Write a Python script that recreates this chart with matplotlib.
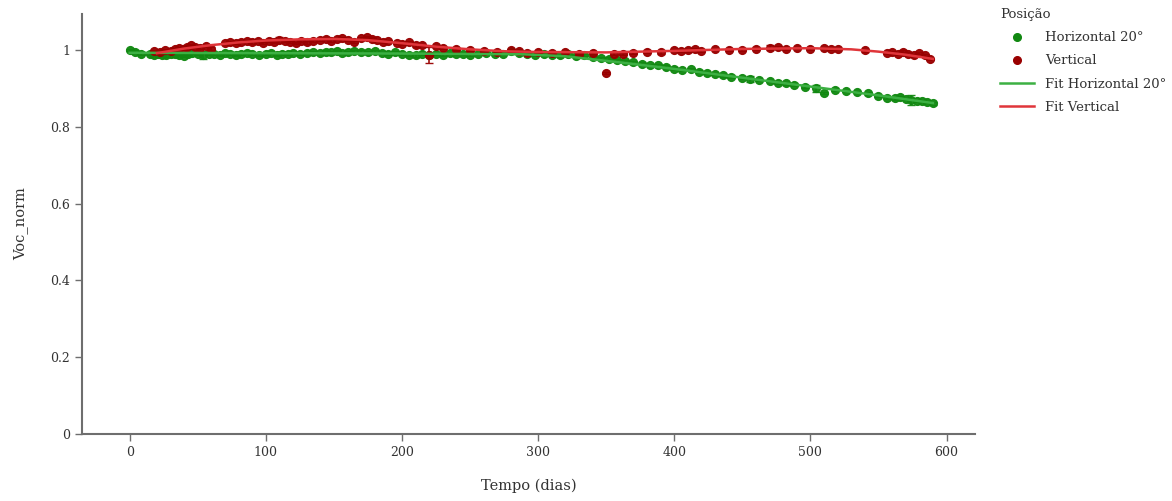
import matplotlib
matplotlib.use("Agg")
import matplotlib.pyplot as plt
from matplotlib.lines import Line2D

plt.rcParams['font.family'] = ['DejaVu Serif']

# Horizontal 20° measurements
h_days = [0, 4, 8, 15, 18, 21, 24, 27, 30, 33, 36, 40, 43, 46, 50, 54, 58, 62, 66, 70,
          74, 78, 82, 86, 90, 95, 100, 104, 108, 112, 116, 120, 125, 130, 135, 140, 144,
          148, 152, 156, 160, 165, 170, 175, 180, 185, 190, 195, 200, 205, 210, 215, 220,
          225, 230, 235, 240, 245, 250, 256, 262, 268, 274, 280, 286, 292, 298, 304, 310,
          316, 322, 328, 334, 340, 346, 352, 358, 364, 370, 376, 382, 388, 394, 400, 406,
          412, 418, 424, 430, 436, 442, 450, 456, 462, 470, 476, 482, 488, 496, 504, 510,
          518, 526, 534, 542, 550, 556, 562, 566, 570, 574, 578, 582, 586, 590]
h_voc = [1.000, 0.996, 0.991, 0.989, 0.987, 0.990, 0.988, 0.986, 0.989, 0.991, 0.987, 0.985,
         0.989, 0.992, 0.990, 0.988, 0.991, 0.989, 0.987, 0.992, 0.990, 0.988, 0.991, 0.993,
         0.989, 0.987, 0.990, 0.992, 0.988, 0.991, 0.989, 0.993, 0.990, 0.992, 0.995, 0.993,
         0.996, 0.994, 0.997, 0.993, 0.995, 0.998, 0.996, 0.994, 0.997, 0.993, 0.991, 0.994,
         0.990, 0.988, 0.986, 0.989, 0.987, 0.990, 0.988, 0.992, 0.989, 0.991, 0.988, 0.990,
         0.992, 0.989, 0.991, 0.997, 0.993, 0.989, 0.987, 0.990, 0.988, 0.986, 0.991, 0.984,
         0.987, 0.983, 0.980, 0.978, 0.975, 0.972, 0.968, 0.965, 0.962, 0.960, 0.957, 0.952,
         0.948, 0.950, 0.944, 0.941, 0.938, 0.934, 0.931, 0.928, 0.925, 0.922, 0.920, 0.915,
         0.913, 0.910, 0.905, 0.900, 0.888, 0.897, 0.893, 0.890, 0.887, 0.880, 0.876, 0.874,
         0.877, 0.872, 0.870, 0.868, 0.867, 0.864, 0.861]
h_err = [0.003] * len(h_voc)
h_err[h_days.index(54)] = 0.010
h_err[h_days.index(456)] = 0.008
h_err[h_days.index(504)] = 0.008
h_err[h_days.index(574)] = 0.014

# Vertical measurements
v_days = [18, 22, 26, 30, 33, 36, 39, 42, 45, 48, 52, 56, 60, 70, 74, 78, 82, 86, 90, 94,
          98, 102, 106, 110, 114, 118, 122, 126, 130, 135, 140, 144, 148, 152, 156, 160,
          165, 170, 174, 178, 182, 186, 190, 196, 200, 205, 210, 215, 220, 225, 230, 240,
          250, 260, 270, 280, 286, 292, 300, 310, 320, 330, 340, 350, 356, 362, 370, 380,
          390, 400, 405, 410, 415, 420, 430, 440, 450, 460, 470, 476, 482, 490, 500, 510,
          515, 520, 540, 556, 560, 564, 568, 572, 576, 580, 584, 588]
v_voc = [0.998, 0.996, 1.000, 0.997, 1.003, 1.006, 1.002, 1.009, 1.012, 1.008, 1.005, 1.010,
         1.004, 1.018, 1.022, 1.019, 1.021, 1.024, 1.020, 1.023, 1.018, 1.025, 1.022, 1.027,
         1.024, 1.021, 1.019, 1.023, 1.020, 1.024, 1.027, 1.030, 1.025, 1.029, 1.032, 1.026,
         1.022, 1.031, 1.035, 1.030, 1.027, 1.022, 1.024, 1.018, 1.016, 1.020, 1.012, 1.014,
         0.987, 1.010, 1.006, 1.003, 1.000, 0.998, 0.995, 1.001, 0.998, 0.993, 0.995, 0.992,
         0.994, 0.990, 0.993, 0.940, 0.991, 0.989, 0.992, 0.996, 0.994, 1.000, 0.997, 0.999,
         1.002, 0.998, 1.003, 1.001, 1.000, 1.004, 1.006, 1.008, 1.003, 1.005, 1.002, 1.006,
         1.004, 1.003, 0.999, 0.992, 0.994, 0.989, 0.996, 0.991, 0.987, 0.993, 0.988, 0.977]
v_err = [0.003] * len(v_voc)
v_err[v_days.index(220)] = 0.020
v_err[v_days.index(110)] = 0.008
v_err[v_days.index(470)] = 0.006

# Fitted curves
fit_h_days = [0, 100, 200, 290, 320, 360, 400, 450, 500, 550, 590]
fit_h_voc = [0.993, 0.992, 0.991, 0.989, 0.984, 0.968, 0.951, 0.928, 0.905, 0.882, 0.862]
fit_v_days = [20, 40, 60, 80, 100, 125, 150, 175, 200, 225, 250, 275, 300, 350, 400,
              450, 500, 530, 550, 570, 590]
fit_v_voc = [0.992, 1.004, 1.013, 1.020, 1.025, 1.028, 1.029, 1.026, 1.018, 1.009, 1.002,
             0.997, 0.995, 0.994, 0.998, 1.003, 1.005, 1.002, 0.996, 0.988, 0.977]

green_pt = "#118811"
red_pt = "#990000"
green_fit = "#3cb043"
red_fit = "#e0353a"
axis_grey = "#6e6e6e"

fig = plt.figure(figsize=(11.72, 5.01), dpi=100)
ax = fig.add_axes([0.070, 0.134, 0.762, 0.838])

ax.errorbar(h_days, h_voc, yerr=h_err, fmt="o", color=green_pt, ms=5.6,
            elinewidth=1.2, capsize=3, alpha=0.95, zorder=2)
ax.errorbar(v_days, v_voc, yerr=v_err, fmt="o", color=red_pt, ms=5.6,
            elinewidth=1.2, capsize=3, alpha=0.95, zorder=2)
ax.plot(fit_h_days, fit_h_voc, color=green_fit, lw=1.8, zorder=3)
ax.plot(fit_v_days, fit_v_voc, color=red_fit, lw=1.8, zorder=3)

ax.set_xlim(-35, 621)
ax.set_ylim(0, 1.094)
ax.set_xticks([0, 100, 200, 300, 400, 500, 600])
ax.set_yticks([0, 0.2, 0.4, 0.6, 0.8, 1.0])
ax.set_yticklabels(["0", "0.2", "0.4", "0.6", "0.8", "1"])

for side in ["top", "right"]:
    ax.spines[side].set_visible(False)
for side in ["left", "bottom"]:
    ax.spines[side].set_color(axis_grey)
    ax.spines[side].set_linewidth(1.5)
ax.tick_params(colors=axis_grey, labelcolor="#333333", labelsize=9, length=5, width=1)

ax.set_xlabel("Tempo (dias)", fontsize=10.5, color="#333333", labelpad=14)
ax.set_ylabel("Voc_norm", fontsize=10.5, color="#333333", labelpad=16)

handles = [
    Line2D([], [], marker="o", ls="none", color=green_pt, ms=5.5),
    Line2D([], [], marker="o", ls="none", color=red_pt, ms=5.5),
    Line2D([], [], color=green_fit, lw=1.8),
    Line2D([], [], color=red_fit, lw=1.8),
]
labels = ["Horizontal 20°", "Vertical", "Fit Horizontal 20°", "Fit Vertical"]
leg = fig.legend(handles, labels, title="Posição", loc="upper left",
                 bbox_to_anchor=(0.843, 1.008), frameon=False, fontsize=9.5,
                 title_fontsize=9.5, handlelength=2.6, labelspacing=0.78,
                 alignment="left")
for t in leg.get_texts():
    t.set_color("#333333")
leg.get_title().set_color("#333333")

fig.savefig("out.png", dpi=100)
